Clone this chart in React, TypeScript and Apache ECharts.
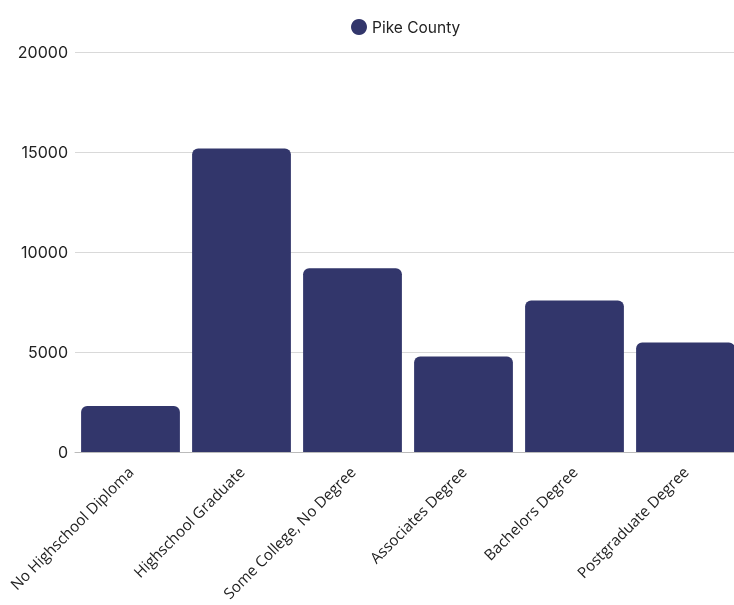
import React, { useEffect, useRef } from "react";
import * as echarts from "echarts";

const categories = [
  "No Highschool Diploma",
  "Highschool Graduate",
  "Some College, No Degree",
  "Associates Degree",
  "Bachelors Degree",
  "Postgraduate Degree",
];
const seriesName = "Pike County";
const values = [2300, 15180, 9190, 4770, 7580, 5480];
const yTicks = { min: 0, max: 20000, interval: 5000 };

export default function App() {
  const ref = useRef<HTMLDivElement>(null);
  useEffect(() => {
    if (!ref.current) return;
    const chart = echarts.init(ref.current, null, { renderer: "svg" });
    chart.setOption({
      animation: false,
      legend: {
        top: 14,
        left: 346,
        icon: "circle",
        itemWidth: 16,
        itemHeight: 16,
        itemGap: 7,
        textStyle: { fontFamily: "Inter", fontSize: 15.5, color: "#222" },
        data: [seriesName],
      },
      grid: {
        left: 75,
        top: 52,
        width: 666,
        height: 400,
        containLabel: false,
        outerBoundsMode: "none",
      },
      xAxis: {
        type: "category",
        data: categories,
        axisTick: { show: false },
        axisLine: { lineStyle: { color: "#bbb" } },
        axisLabel: {
          rotate: 45,
          interval: 0,
          margin: 17,
          fontFamily: "Open Sans",
          fontSize: 15.2,
          color: "#222",
        },
      },
      yAxis: {
        type: "value",
        min: yTicks.min,
        max: yTicks.max,
        interval: yTicks.interval,
        axisLabel: {
          fontFamily: "Inter",
          fontSize: 16,
          color: "#222",
          margin: 7,
          formatter: (v: number) => String(v),
        },
        splitLine: { lineStyle: { color: "#d9d9d9" } },
        axisLine: { show: false },
        axisTick: { show: false },
      },
      series: [
        {
          name: seriesName,
          type: "bar",
          data: values,
          barCategoryGap: "11%",
          itemStyle: { color: "#32366b", borderRadius: [6, 6, 0, 0] },
        },
      ],
    });
    return () => chart.dispose();
  }, []);
  return (
    <div
      ref={ref}
      style={{ position: "fixed", left: 0, top: 0, width: 734, height: 605 }}
    />
  );
}
